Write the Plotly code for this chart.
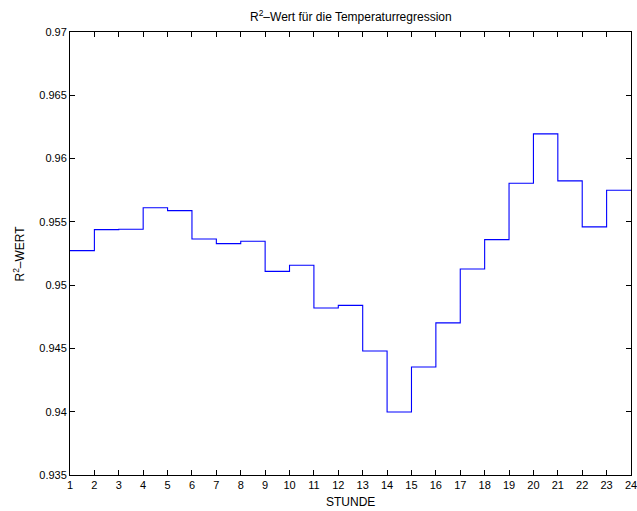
import plotly.graph_objects as go

hours = list(range(1, 25))
r2_values = [0.95273, 0.95439, 0.95441, 0.95611, 0.95589, 0.95365, 0.95328, 0.95347,
             0.95109, 0.95157, 0.94820, 0.94840, 0.94480, 0.93998, 0.94353, 0.94702,
             0.95127, 0.95360, 0.95805, 0.96195, 0.95824, 0.95460, 0.95750, 0.95750]
y_tick_vals = [0.935, 0.94, 0.945, 0.95, 0.955, 0.96, 0.965, 0.97]
y_tick_text = ["0.935", "0.94", "0.945", "0.95", "0.955", "0.96", "0.965", "0.97"]
x_tick_vals = list(range(1, 25))

FONT = "Liberation Sans, Arial"

fig = go.Figure()
fig.add_trace(go.Scatter(x=hours, y=r2_values, mode="lines",
                         line=dict(shape="hv", color="#0000ff", width=1.1),
                         showlegend=False))

axis_common = dict(showline=True, linecolor="black", linewidth=1, mirror="ticks",
                   ticks="inside", ticklen=5, tickcolor="black", tickwidth=1,
                   showgrid=False, zeroline=False, automargin=False,
                   ticklabeloverflow="allow",
                   tickfont=dict(family=FONT, size=11, color="black"))

fig.update_layout(
    width=637, height=511,
    margin=dict(l=70, r=6, t=32, b=36, autoexpand=False),
    paper_bgcolor="white", plot_bgcolor="white",
    xaxis=dict(range=[1, 24], tickvals=x_tick_vals, **axis_common),
    yaxis=dict(range=[0.935, 0.97], tickvals=y_tick_vals, ticktext=y_tick_text,
               **axis_common),
    annotations=[
        dict(text="R<sup>2</sup>–Wert für die Temperaturregression",
             xref="paper", yref="paper", x=0.5, y=1, yshift=16,
             xanchor="center", yanchor="middle", showarrow=False,
             font=dict(family=FONT, size=12, color="black")),
        dict(text="STUNDE", xref="paper", yref="paper", x=0.5, y=0, yshift=-27,
             xanchor="center", yanchor="middle", showarrow=False,
             font=dict(family=FONT, size=12, color="black")),
        dict(text="R<sup>2</sup>–WERT", xref="paper", yref="paper", x=0, xshift=-52,
             y=0.5, xanchor="center", yanchor="middle", textangle=-90, showarrow=False,
             font=dict(family=FONT, size=12, color="black")),
    ],
)

fig.write_html(
    "out.html",
    config={"displayModeBar": False},
    post_script="document.body.style.margin='0';document.body.style.overflow='hidden';",
)
